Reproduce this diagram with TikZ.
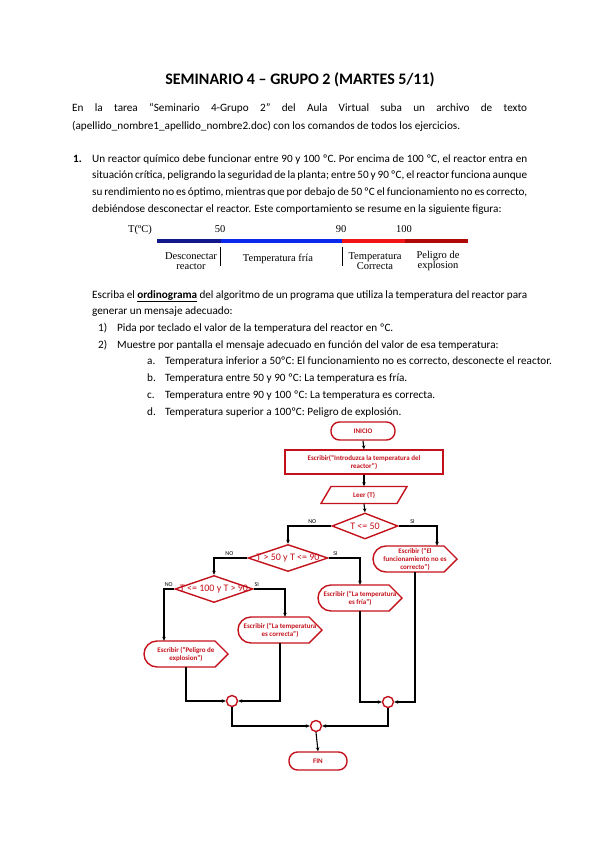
\documentclass[tikz,border=0pt]{standalone}
\usepackage{fontspec}
\setmainfont{Carlito}
\newfontfamily\tnr{Liberation Serif}
\usetikzlibrary{arrows.meta,positioning,calc,shapes.geometric}
\definecolor{flred}{RGB}{196,18,28}
\definecolor{navyseg}{RGB}{16,24,140}
\definecolor{blueseg}{RGB}{10,40,235}
\definecolor{redseg}{RGB}{240,20,20}
\definecolor{darkredseg}{RGB}{175,8,8}
\newcommand{\bodyfont}{\fontsize{11.2}{16.7}\selectfont}
\newcommand{\flfont}{\fontsize{7}{8}\selectfont\bfseries}
\newcommand{\jl}[1]{\makebox[435pt][s]{#1}}

\begin{document}
\begin{tikzpicture}[x=1pt, y=-1pt,
    every node/.style={inner sep=0pt},
    ln/.style={anchor=base west, font=\bodyfont},
    scl/.style={font=\tnr\fontsize{10.5}{9.5}\selectfont, align=center},
    shp/.style={draw=flred, line width=1.4pt, fill=white},
    outl/.style={draw=flred, line width=1.4pt},
    flow/.style={-{Stealth[length=4pt,width=3.5pt]}, line width=1.1pt, black},
    term/.style={shp, rounded corners=8.5pt, minimum width=64pt, minimum height=18pt, text=flred, font=\flfont},
    procbox/.style={shp, rectangle, minimum width=158pt, minimum height=24pt, align=center, text=flred, font=\flfont},
    cond/.style={shp, diamond, text=flred, font=\fontsize{10}{10}\selectfont},
    joint/.style={shp, circle, minimum size=11pt},
    yesno/.style={font=\fontsize{6}{6}\selectfont, text=black, above=1.5pt},
    disp/.style={minimum width=84pt, minimum height=26pt, align=center, text=flred, font=\flfont,
        append after command={\pgfextra{\draw[outl]
            ([shift={(-29,-13)}]\tikzlastnode.center) -- ([shift={(29,-13)}]\tikzlastnode.center)
            -- ([shift={(42,0)}]\tikzlastnode.center) -- ([shift={(29,13)}]\tikzlastnode.center)
            -- ([shift={(-29,13)}]\tikzlastnode.center) arc[start angle=270, end angle=90, radius=13pt] -- cycle;}}},
    inbox/.style={minimum width=86pt, minimum height=17pt, text=flred, font=\flfont,
        append after command={\pgfextra{\draw[outl]
            ([shift={(-43,8.5)}]\tikzlastnode.center) -- ([shift={(33,8.5)}]\tikzlastnode.center)
            -- ([shift={(43,-8.5)}]\tikzlastnode.center) -- ([shift={(-33,-8.5)}]\tikzlastnode.center) -- cycle;}}},
]
\useasboundingbox (0,0) rectangle (599,848);

\node[font=\fontsize{16}{18}\selectfont\bfseries, anchor=base] (title) at (300,85) {SEMINARIO 4 – GRUPO 2 (MARTES 5/11)};

\node[ln] (p1a) at (72,112) {\makebox[455pt][s]{En la tarea “Seminario 4-Grupo 2” del Aula Virtual suba un archivo de texto}};
\node[ln] (p1b) at (72,129) {(apellido\_nombre1\_apellido\_nombre2.doc) con los comandos de todos los ejercicios.};

\node[ln, font=\bodyfont\bfseries] (n1) at (73,162) {1.};
\node[ln] (q1) at (92,162) {\jl{Un reactor químico debe funcionar entre 90 y 100 ºC. Por encima de 100 ºC, el reactor entra en}};
\node[ln] (q2) at (92,178.7) {\jl{situación crítica, peligrando la seguridad de la planta; entre 50 y 90 ºC, el reactor funciona aunque}};
\node[ln] (q3) at (92,195.4) {\jl{su rendimiento no es óptimo, mientras que por debajo de 50 ºC el funcionamiento no es correcto,}};
\node[ln] (q4) at (92,212) {debiéndose desconectar el reactor. Este comportamiento se resume en la siguiente figura:};

\node[scl, anchor=base] (tc) at (140,232) {T(ºC)};
\node[scl, anchor=base] (t50) at (220,232) {50};
\node[scl, anchor=base] (t90) at (341,232) {90};
\node[scl, anchor=base] (t100) at (404,232) {100};
\draw[navyseg, line width=4pt] (157,241) -- (221,241);
\draw[blueseg, line width=4pt] (221,241) -- (342,241);
\draw[redseg, line width=4pt] (342,241) -- (405,241);
\draw[darkredseg, line width=4pt] (405,241) -- (468,241);
\draw[line width=0.8pt] (220,247) -- (220,266);
\draw[line width=0.8pt] (342,247) -- (342,266);
\node[scl] (zdes) at (191,261) {Desconectar\\reactor};
\node[scl] (zfria) at (278,259) {Temperatura fría};
\node[scl] (zcorr) at (375,261) {Temperatura\\Correcta};
\node[scl] (zpel) at (438,261) {Peligro de\\explosion};

\node[ln] (e1) at (92,298) {\jl{Escriba el \textbf{\underline{ordinograma}} del algoritmo de un programa que utiliza la temperatura del reactor para}};
\node[ln] (e2) at (92,314.7) {generar un mensaje adecuado:};
\node[ln] (s1n) at (98,331.4) {1)};
\node[ln] (s1) at (117,331.4) {Pida por teclado el valor de la temperatura del reactor en ºC.};
\node[ln] (s2n) at (98,348) {2)};
\node[ln] (s2) at (117,348) {Muestre por pantalla el mensaje adecuado en función del valor de esa temperatura:};
\node[ln] (ran) at (147,364.8) {a.};
\node[ln] (ra) at (165,364.8) {Temperatura inferior a 50ºC: El funcionamiento no es correcto, desconecte el reactor.};
\node[ln] (rbn) at (147,381.5) {b.};
\node[ln] (rb) at (165,381.5) {Temperatura entre 50 y 90 ºC: La temperatura es fría.};
\node[ln] (rcn) at (147,398) {c.};
\node[ln] (rc) at (165,398) {Temperatura entre 90 y 100 ºC: La temperatura es correcta.};
\node[ln] (rdn) at (147,415) {d.};
\node[ln] (rd) at (165,415) {Temperatura superior a 100ºC: Peligro de explosión.};

\node[term] (ini) at (363,431) {INICIO};
\node[procbox] (esc) at (364,462) {Escribir(“Introduzca la temperatura del\\reactor”)};
\node[inbox] (leer) at (364,495) {Leer (T)};
\node[cond, minimum width=66pt, minimum height=26pt] (d1) at (365,526) {\makebox[0pt]{T <= 50}};
\node[cond, minimum width=80pt, minimum height=27pt] (d2) at (288,558) {\makebox[0pt]{T > 50 y T <= 90}};
\node[cond, minimum width=78pt, minimum height=27pt] (d3) at (214,589) {\makebox[0pt]{T <= 100 y T > 90}};
\node[disp] (func) at (415,559) {Escribir (“El\\funcionamiento no es\\correcto”)};
\node[disp] (fria) at (360,598) {Escribir (“La temperatura\\es fría”)};
\node[disp] (corr) at (280,630) {Escribir (“La temperatura\\es correcta”)};
\node[disp] (pel) at (186,654) {Escribir (“Peligro de\\explosion”)};
\node[joint] (c1) at (232,701) {};
\node[joint] (c2) at (388,702) {};
\node[joint] (c3) at (316,726) {};
\node[term, minimum width=58pt] (fin) at (318,761) {FIN};

\draw[flow] (ini.south) -- (esc.north);
\draw[flow] (esc.south) -- (leer.north);
\draw[flow] (leer.south) -- (d1.north);
\draw[flow] (d1.west) -| (d2.north) node[yesno, pos=0.22] {NO};
\draw[flow] (d1.east) -| ([xshift=22pt]func.north) node[yesno, pos=0.18] {SI};
\draw[flow] (d2.west) -| (d3.north) node[yesno, pos=0.27] {NO};
\draw[flow] (d2.east) -| (fria.north) node[yesno, pos=0.11] {SI};
\draw[flow] (d3.west) -| ([xshift=-22pt]pel.north) node[yesno, pos=0.27] {NO};
\draw[flow] (d3.east) -| ([xshift=5pt]corr.north) node[yesno, pos=0.05] {SI};
\draw[flow] (pel.south) |- (c1.west);
\draw[flow] (corr.south) |- (c1.east);
\draw[flow] (fria.south) |- (c2.west);
\draw[flow] (func.south) |- (c2.east);
\draw[flow] (c1.south) |- (c3.west);
\draw[flow] (c2.south) |- (c3.east);
\draw[flow] (c3.south) -- (fin.north);
\end{tikzpicture}
\end{document}
